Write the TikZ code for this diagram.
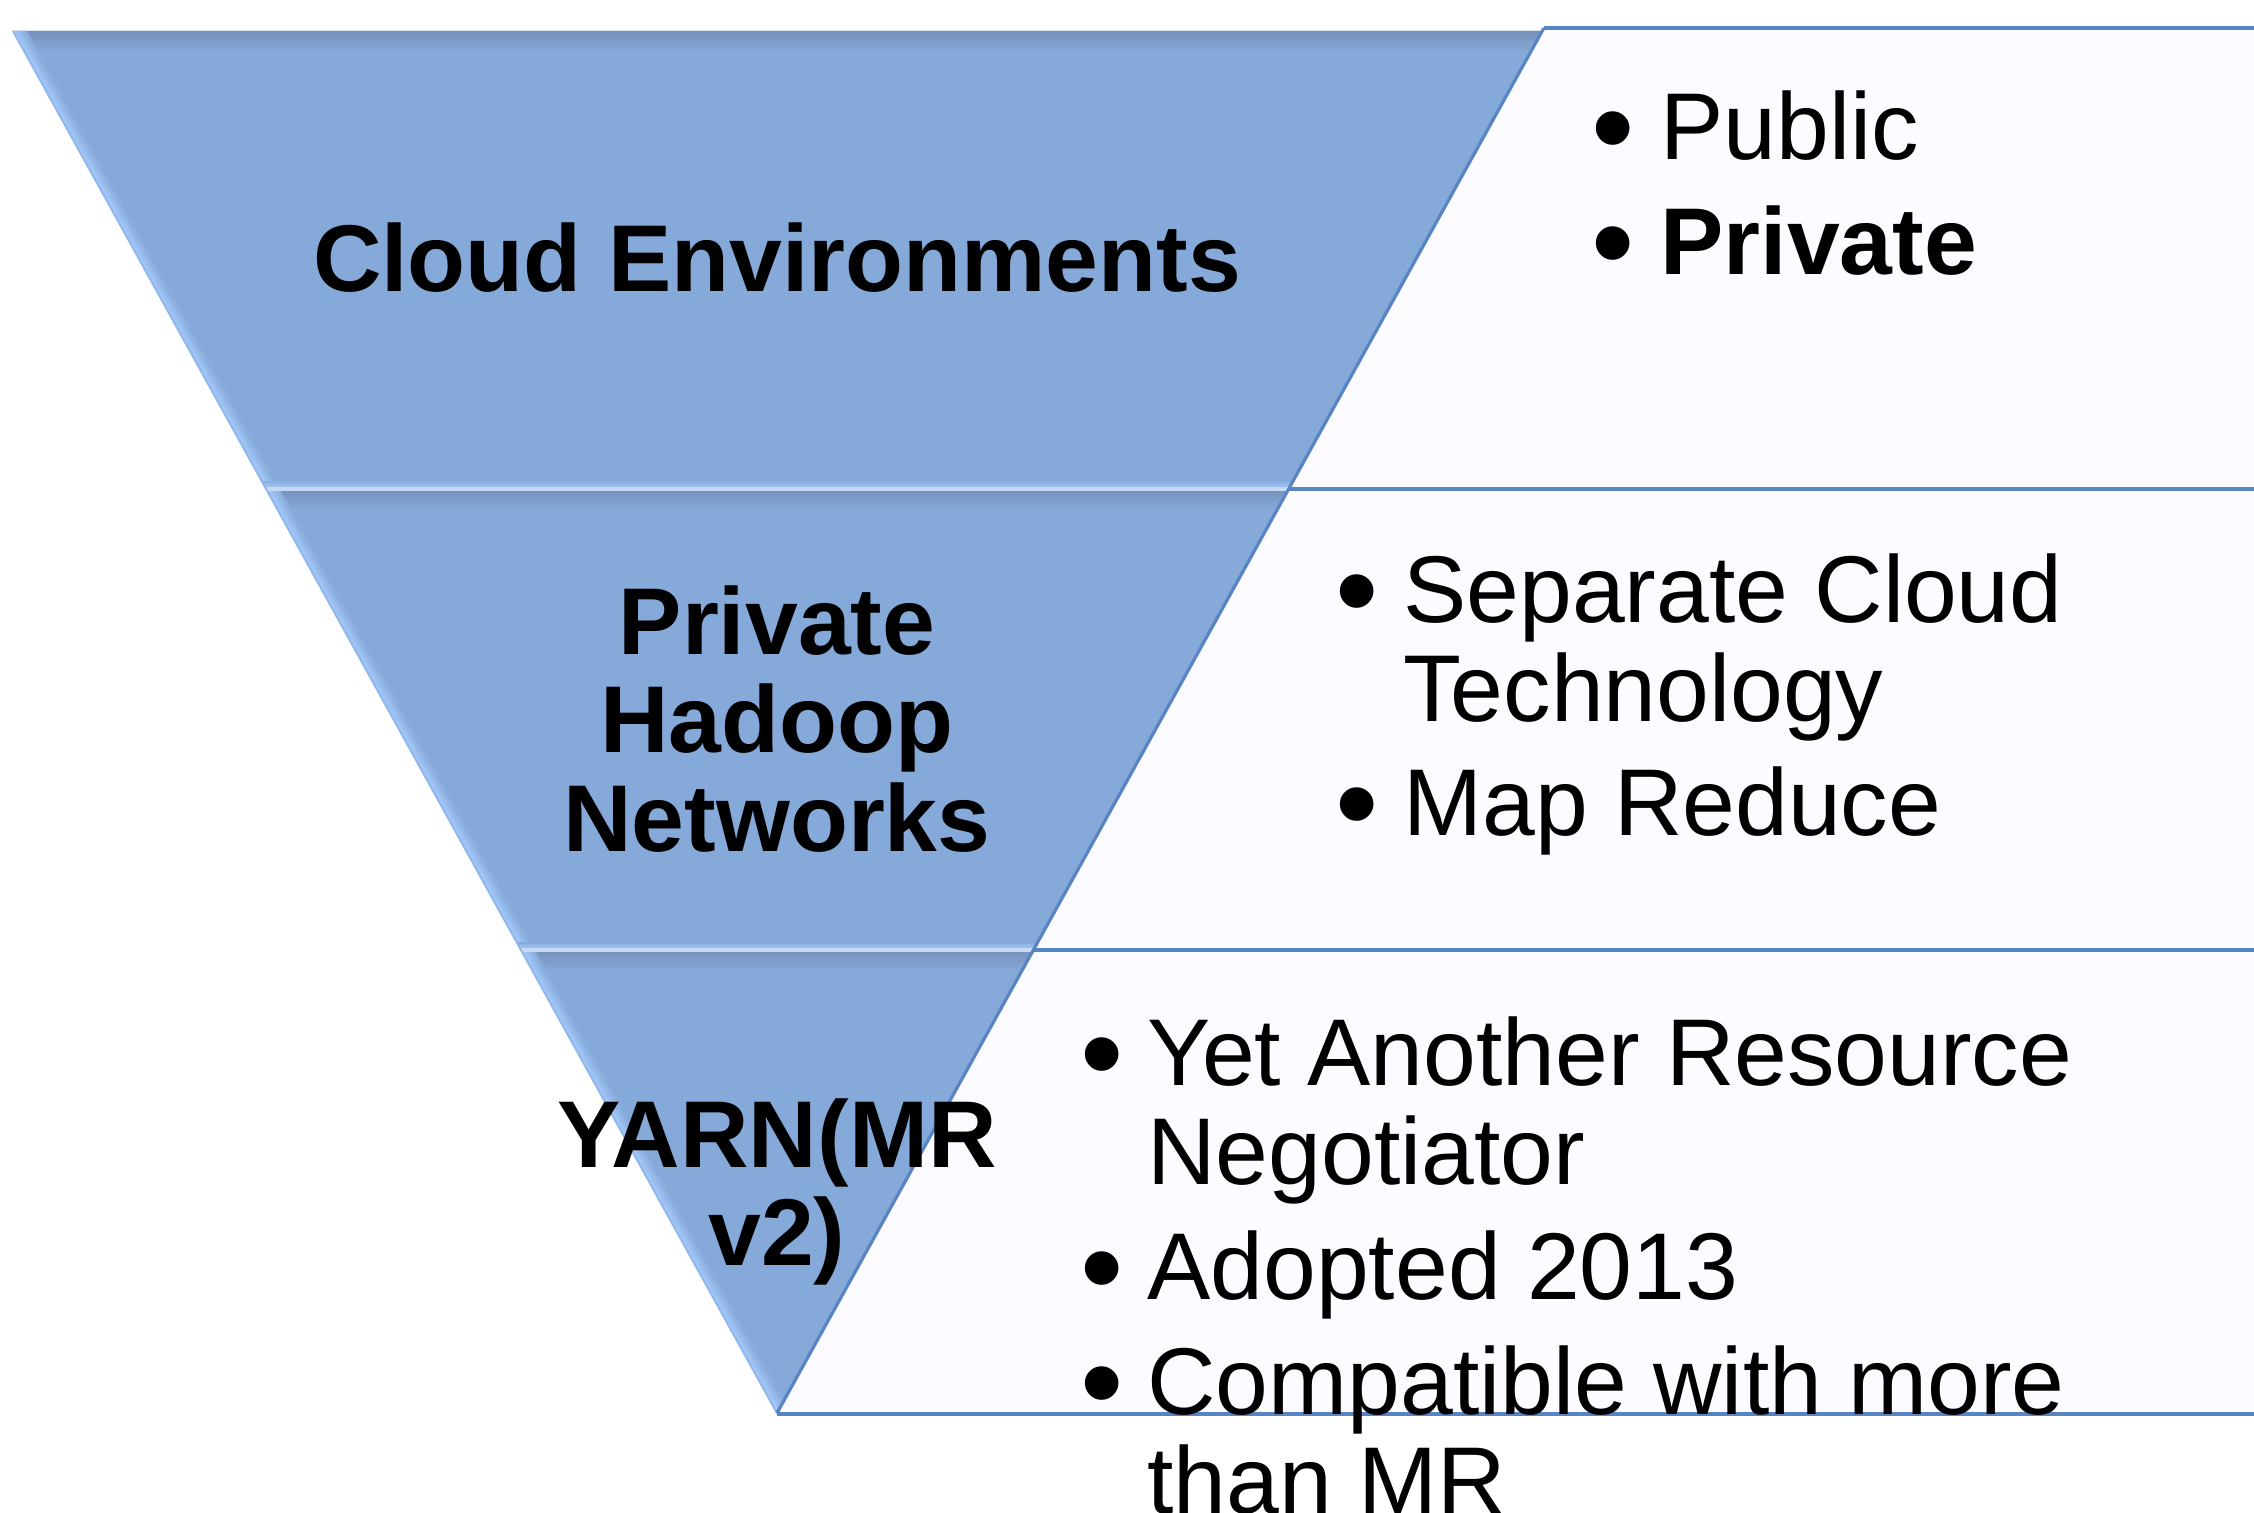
\documentclass[tikz,border=0pt]{standalone}
\usepackage{fontspec}
\setmainfont{Liberation Sans}
\definecolor{bandbase}{HTML}{85A9D8}
\definecolor{banddark}{HTML}{7690B8}
\definecolor{bandlight}{HTML}{A8CDFD}
\definecolor{edgeblue}{HTML}{5884C4}
\definecolor{panelfill}{HTML}{FCFBFF}
\definecolor{seplight}{HTML}{C8DAF3}
\newcommand\bevelband[4]{%
  \begin{scope}
    \clip (#1) -- (#2) -- (#3) -- (#4) -- cycle;
    \fill[bandbase] (#1) -- (#2) -- (#3) -- (#4) -- cycle;
    \foreach \i [evaluate=\i as \p using int(100-7*\i)] in {0,...,13}
      \draw[line width=1.3pt, draw=banddark!\p!bandbase]
        ([yshift=-\i pt, xshift=-60pt]#1) -- ([yshift=-\i pt, xshift=60pt]#2);
    \foreach \i [evaluate=\i as \p using int(100-10*\i)] in {0,...,9}
      \draw[line width=1.3pt, draw=bandlight!\p!bandbase, shorten <=-30pt, shorten >=-30pt]
        ([xshift=\i pt]#1) -- ([xshift=\i pt]#4);
  \end{scope}}
\begin{document}
\begin{tikzpicture}[x=1pt,y=-1pt,
  lefttext/.style={anchor=base, inner sep=0pt, font=\fontsize{66}{68}\selectfont\bfseries},
  itemtext/.style={anchor=base west, inner sep=0pt, font=\fontsize{66}{68}\selectfont},
  itembold/.style={itemtext, font=\fontsize{66}{68}\selectfont\bfseries},
  bulletmark/.style={anchor=base, inner sep=0pt, yshift=-7pt, font=\fontsize{86}{88}\selectfont},
  panelline/.style={draw=edgeblue, line width=2.5pt}]
\useasboundingbox (0,0) rectangle (1568,1052);
\clip (0,0) rectangle (1568,1052);
\fill[white] (0,0) rectangle (1568,1052);
% triangle corners
\coordinate (A0) at (9,21.5);
\coordinate (B0) at (1072,21.5);
\coordinate (A1) at (185,340);
\coordinate (B1) at (896,340);
\coordinate (A2) at (362.5,661);
\coordinate (B2) at (718.5,661);
\coordinate (Z) at (540.5,983);
% panel corners
\coordinate (P0) at (1074,19.5);
\coordinate (Q0) at (1590,19.5);
\coordinate (Q1) at (1590,340);
\coordinate (Q2) at (1590,661);
\coordinate (Q3) at (1590,983.7);
\coordinate (P3) at (540.5,983.7);
% panels
\fill[panelfill] (P0) -- (Q0) -- (Q3) -- (P3) -- cycle;
% bands
\bevelband{A0}{B0}{B1}{A1}
\bevelband{A1}{B1}{B2}{A2}
\bevelband{A2}{B2}{Z}{Z}
% bottom light strips
\begin{scope}
  \clip (A0) -- (B0) -- (Z) -- cycle;
  \foreach \i [evaluate=\i as \p using int(100-18*\i)] in {0,...,5}{
    \draw[line width=1.2pt, draw=bandlight!\p!bandbase] ([yshift=\i pt, xshift=-30pt]A1) -- ([yshift=\i pt, xshift=30pt]B1);
    \draw[line width=1.2pt, draw=bandlight!\p!bandbase] ([yshift=\i pt, xshift=-30pt]A2) -- ([yshift=\i pt, xshift=30pt]B2);
  }
\end{scope}
\draw[seplight, line width=2.5pt] (A1) -- (B1);
\draw[seplight, line width=2.5pt] (A2) -- (B2);
% outlines
\draw[bandlight!70!edgeblue, line width=1.4pt] (A0) -- (Z);
\draw[panelline] (P0) -- (Q0);
\draw[panelline] (B1) -- (Q1);
\draw[panelline] (B2) -- (Q2);
\draw[panelline] (P3) -- (Q3);
\draw[edgeblue, line width=2.2pt] (P0) -- (Z);
% left labels
\node[lefttext] (ce) at (540.5,203) {Cloud Environments};
\node[lefttext] (ph1) at (540.5,455) {Private};
\node[lefttext] (ph2) at (540.5,523.5) {Hadoop};
\node[lefttext] (ph3) at (540.5,592) {Networks};
\node[lefttext] (ya1) at (540.5,812) {YARN(MR};
\node[lefttext] (ya2) at (540.5,880) {v2)};
% panel 1
\node[bulletmark] (b1a) at (1122,111) {•};
\node[itemtext] (t1a) at (1155,111) {Public};
\node[bulletmark] (b1b) at (1122,191) {•};
\node[itembold] (t1b) at (1155,191) {Private};
% panel 2
\node[bulletmark] (b2a) at (944,433) {•};
\node[itemtext] (t2a) at (976,433) {Separate Cloud};
\node[itemtext] (t2b) at (976,502) {Technology};
\node[bulletmark] (b2b) at (944,581) {•};
\node[itemtext] (t2c) at (976,581) {Map Reduce};
% panel 3
\node[bulletmark] (b3a) at (767,755) {•};
\node[itemtext] (t3a) at (798,755) {Yet Another Resource};
\node[itemtext] (t3b) at (798,824) {Negotiator};
\node[bulletmark] (b3b) at (767,904) {•};
\node[itemtext] (t3c) at (798,904) {Adopted 2013};
\node[bulletmark] (b3c) at (767,984) {•};
\node[itemtext] (t3d) at (798,984) {Compatible with more};
\node[itemtext] (t3e) at (798,1053) {than MR};
\end{tikzpicture}
\end{document}
